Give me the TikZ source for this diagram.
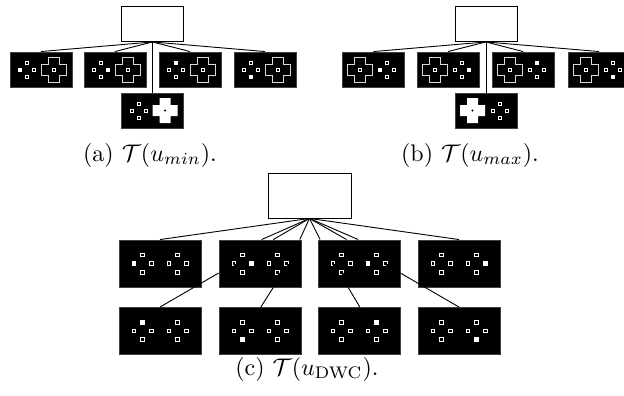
\documentclass[tikz,border=0pt]{standalone}
\usepackage{graphicx}
\usetikzlibrary{calc}

\tikzset{
  rootbox/.style={draw=black, fill=white, line width=0.9pt, minimum width=62pt, minimum height=35pt, inner sep=0pt},
  statebox/.style={draw=black!75, fill=black, line width=0.9pt, minimum width=62pt, minimum height=35pt, inner sep=0pt},
  bigroot/.style={rootbox, minimum width=83pt, minimum height=45pt},
  bigstate/.style={statebox, minimum width=82pt, minimum height=47pt},
  link/.style={line width=0.9pt},
  caption/.style={inner sep=0pt, anchor=base}
}

% cuatro cuadritos: nodo, desplazamiento x, separacion, semilado
\newcommand{\squareset}[4]{%
  \foreach \dx/\dy in {0/-1,-1/0,1/0,0/1}
    \draw[white, line width=0.9pt] ($(#1)+(#2+\dx*#3-#4,\dy*#3-#4)$) rectangle ($(#1)+(#2+\dx*#3+#4,\dy*#3+#4)$);}
% cuadrito relleno: nodo, desplazamiento x, posicion x, posicion y, semilado
\newcommand{\fillsq}[5]{%
  \fill[white] ($(#1)+(#2+#3-#5-0.45,#4-#5-0.45)$) rectangle ($(#1)+(#2+#3+#5+0.45,#4+#5+0.45)$);}
% cuadrito roto: nodo, desplazamiento x, posicion x, posicion y
\newcommand{\notchsq}[4]{%
  \fill[black] ($(#1)+(#2+#3+0.6,#4+0.6)$) rectangle ++(1.8,1.8);}
% cruz vacia
\newcommand{\crossline}[2]{%
  \draw[white!85!black, line width=0.9pt] ($(#1)+(#2-5.5,-12.5)$) -- ++(11,0) -- ++(0,7) -- ++(7,0) -- ++(0,11) -- ++(-7,0) -- ++(0,7) -- ++(-11,0) -- ++(0,-7) -- ++(-7,0) -- ++(0,-11) -- ++(7,0) -- cycle;
  \draw[white, line width=0.9pt] ($(#1)+(#2-1.5,-1.5)$) rectangle ($(#1)+(#2+1.5,1.5)$);}
% cruz llena
\newcommand{\crossfill}[2]{%
  \fill[white] ($(#1)+(#2-5.5,-12.5)$) -- ++(11,0) -- ++(0,7) -- ++(7,0) -- ++(0,11) -- ++(-7,0) -- ++(0,7) -- ++(-11,0) -- ++(0,-7) -- ++(-7,0) -- ++(0,-11) -- ++(7,0) -- cycle;
  \fill[black] ($(#1)+(#2,0)$) circle (1.1pt);}

\begin{document}
\begin{tikzpicture}[x=1pt, y=-1pt]
  \useasboundingbox (0,0) rectangle (624,396);

  % Arbol (a)
  \node[rootbox] (ra) at (152.5,24) {};
  \node[statebox] (a1) at (41,69.5) {};
  \node[statebox] (a2) at (115,69.5) {};
  \node[statebox] (a3) at (190,69.5) {};
  \node[statebox] (a4) at (265,69.5) {};
  \node[statebox] (a5) at (152.5,110.5) {};

  \draw[link] (ra.south) -- (a1.north);
  \draw[link] (ra.south) -- (a2.north);
  \draw[link] (ra.south) -- (a3.north);
  \draw[link] (ra.south) -- (a4.north);
  \draw[link] (ra.south) -- (a5.north);

  \squareset{a1}{-14}{7}{1.5} \fillsq{a1}{-14}{-7}{0}{1.5} \crossline{a1}{12.5}
  \squareset{a2}{-14}{7}{1.5} \fillsq{a2}{-14}{7}{0}{1.5} \crossline{a2}{12.5}
  \squareset{a3}{-14}{7}{1.5} \fillsq{a3}{-14}{0}{-7}{1.5} \crossline{a3}{12.5}
  \squareset{a4}{-14}{7}{1.5} \fillsq{a4}{-14}{0}{7}{1.5} \crossline{a4}{12.5}
  \squareset{a5}{-14}{7}{1.5} \crossfill{a5}{12.5}

  \node[caption] (capa) at (150,161) {\scalebox{2.4}{(a) $\mathcal{T}(u_{min})$.}};

  % Arbol (b)
  \node[rootbox] (rb) at (486,24) {};
  \node[statebox] (b1) at (373.5,69.5) {};
  \node[statebox] (b2) at (448,69.5) {};
  \node[statebox] (b3) at (523,69.5) {};
  \node[statebox] (b4) at (599,69.5) {};
  \node[statebox] (b5) at (486,110.5) {};

  \draw[link] (rb.south) -- (b1.north);
  \draw[link] (rb.south) -- (b2.north);
  \draw[link] (rb.south) -- (b3.north);
  \draw[link] (rb.south) -- (b4.north);
  \draw[link] (rb.south) -- (b5.north);

  \crossline{b1}{-13.5} \squareset{b1}{13.5}{7}{1.5} \fillsq{b1}{13.5}{-7}{0}{1.5}
  \crossline{b2}{-13.5} \squareset{b2}{13.5}{7}{1.5} \fillsq{b2}{13.5}{7}{0}{1.5}
  \crossline{b3}{-13.5} \squareset{b3}{13.5}{7}{1.5} \fillsq{b3}{13.5}{0}{-7}{1.5}
  \crossline{b4}{-13.5} \squareset{b4}{13.5}{7}{1.5} \fillsq{b4}{13.5}{0}{7}{1.5}
  \crossfill{b5}{-13.5} \squareset{b5}{13.5}{7}{1.5}

  \node[caption] (capb) at (470,161) {\scalebox{2.4}{(b) $\mathcal{T}(u_{max})$.}};

  % Arbol (c)
  \node[bigroot] (rc) at (309.5,195.5) {};
  \node[bigstate] (c1) at (160,263.5) {};
  \node[bigstate] (c2) at (260,263.5) {};
  \node[bigstate] (c3) at (359,263.5) {};
  \node[bigstate] (c4) at (459,263.5) {};
  \node[bigstate] (d1) at (160,331) {};
  \node[bigstate] (d2) at (260,331) {};
  \node[bigstate] (d3) at (359,331) {};
  \node[bigstate] (d4) at (459,331) {};

  % Aristas desde la raiz
  \draw[link] (rc.south) -- (c1.north);
  \draw[link] (rc.south) -- ($(c2.north west)!0.52!(c2.north east)$);
  \draw[link] (rc.south) -- ($(c2.north west)!0.66!(c2.north east)$);
  \draw[link] (rc.south) -- ($(c2.north west)!0.98!(c2.north east)$);
  \draw[link] (rc.south) -- ($(c3.north west)!0.03!(c3.north east)$);
  \draw[link] (rc.south) -- ($(c3.north west)!0.35!(c3.north east)$);
  \draw[link] (rc.south) -- ($(c3.north west)!0.49!(c3.north east)$);
  \draw[link] (rc.south) -- (c4.north);

  % Aristas al segundo nivel
  \draw[link] ($(c2.north west)!0.7!(c2.south west)$) -- (d1.north);
  \draw[link] ($(c2.south west)!0.66!(c2.south east)$) -- ($(d2.north west)!0.51!(d2.north east)$);
  \draw[link] ($(c3.south west)!0.37!(c3.south east)$) -- ($(d3.north west)!0.51!(d3.north east)$);
  \draw[link] ($(c3.north east)!0.7!(c3.south east)$) -- (d4.north);

  \squareset{c1}{-17.5}{8.7}{1.8} \squareset{c1}{17.5}{8.7}{1.8} \fillsq{c1}{-17.5}{-8.7}{0}{1.8}
  \squareset{c2}{-17.5}{8.7}{1.8} \squareset{c2}{17.5}{8.7}{1.8} \fillsq{c2}{-17.5}{8.7}{0}{1.8}
  \notchsq{c2}{-17.5}{-8.7}{0} \notchsq{c2}{17.5}{8.7}{0} \notchsq{c2}{17.5}{0}{8.7}
  \squareset{c3}{-17.5}{8.7}{1.8} \squareset{c3}{17.5}{8.7}{1.8} \fillsq{c3}{17.5}{-8.7}{0}{1.8}
  \notchsq{c3}{-17.5}{-8.7}{0} \notchsq{c3}{-17.5}{0}{8.7} \notchsq{c3}{17.5}{8.7}{0}
  \squareset{c4}{-17.5}{8.7}{1.8} \squareset{c4}{17.5}{8.7}{1.8} \fillsq{c4}{17.5}{8.7}{0}{1.8}
  \squareset{d1}{-17.5}{8.7}{1.8} \squareset{d1}{17.5}{8.7}{1.8} \fillsq{d1}{-17.5}{0}{-8.7}{1.8}
  \squareset{d2}{-17.5}{8.7}{1.8} \squareset{d2}{17.5}{8.7}{1.8} \fillsq{d2}{-17.5}{0}{8.7}{1.8}
  \squareset{d3}{-17.5}{8.7}{1.8} \squareset{d3}{17.5}{8.7}{1.8} \fillsq{d3}{17.5}{0}{-8.7}{1.8}
  \squareset{d4}{-17.5}{8.7}{1.8} \squareset{d4}{17.5}{8.7}{1.8} \fillsq{d4}{17.5}{0}{8.7}{1.8}

  \node[caption] (capc) at (307,375) {\scalebox{2.4}{(c) $\mathcal{T}(u_{\mathrm{DWC}})$.}};
\end{tikzpicture}
\end{document}
